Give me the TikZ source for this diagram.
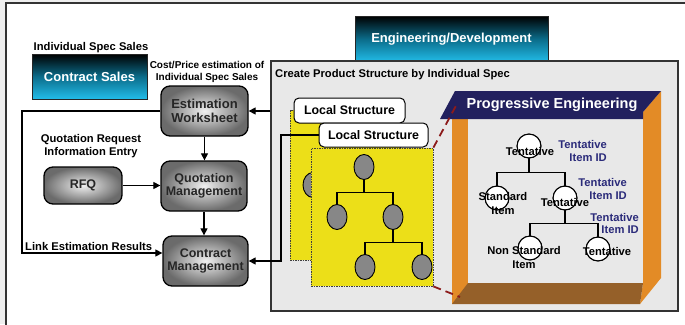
\documentclass[tikz,border=0pt]{standalone}
\usepackage{fontspec}
\setmainfont{Liberation Sans}
\usetikzlibrary{arrows.meta,calc,shapes.geometric}
\definecolor{outerbg}{HTML}{EEEEEE}
\definecolor{framecol}{HTML}{333333}
\definecolor{boxgray}{HTML}{E8E8E8}
\definecolor{yel}{HTML}{ECDF18}
\definecolor{ellgray}{HTML}{878787}
\definecolor{navyband}{HTML}{22205E}
\definecolor{orng}{HTML}{E38B26}
\definecolor{brwn}{HTML}{956029}
\definecolor{reddash}{HTML}{8C1B1B}
\definecolor{navytxt}{HTML}{2B2B7A}
\definecolor{cyanb}{HTML}{22BDE9}
\definecolor{tealm}{HTML}{0B6C8A}
\newcommand\myfs[2]{\fontsize{#1}{#2}\selectfont\bfseries}
\begin{document}
\begin{tikzpicture}[x=1pt,y=-1pt,
  arr/.style={line width=1.2, -{Triangle[length=7pt,width=7pt]}},
  tealbox/.style={draw=black!85, line width=0.8, top color=black, bottom color=cyanb, middle color=tealm, text=white, font=\myfs{13}{15}, inner sep=0},
  gbx/.style={draw=black, line width=1.3, rounded corners=9pt, inner color=gray!12, outer color=black!58, text=black!85, font=\myfs{12.5}{13}, align=center, inner sep=0},
  lbl/.style={draw=black, line width=1, rounded corners=5pt, fill=white, font=\myfs{12.4}{14}, inner sep=0},
  ybox/.style={draw=black!75, fill=yel, line width=0.8, dash pattern=on 1.5pt off 1pt, inner sep=0},
  ell/.style={ellipse, draw=black, fill=ellgray, line width=0.9, minimum width=20, minimum height=25, inner sep=0},
  circ/.style={circle, draw=black, fill=white, line width=0.9, minimum size=24, inner sep=0},
  tl/.style={line width=1.2, draw=black},
  txt/.style={font=\myfs{11.2}{13}, inner sep=0},
  navylab/.style={font=\myfs{11.2}{13}, text=navytxt, align=right, anchor=east, inner sep=0},
  reddashed/.style={draw=reddash, line width=1.8, dash pattern=on 8pt off 5pt}
]
\useasboundingbox (0,0) rectangle (685,324);
\clip (0,0) rectangle (685,324);
\fill[outerbg] (0,0) rectangle (685,324);
\draw[line width=2.5, draw=framecol, fill=white] (6,3) rectangle (700,340);

% left part
\node[txt] (ind) at (91,48) {Individual Spec Sales};
\node[tealbox, minimum width=115, minimum height=45] (cs) at (89.5,76.5) {Contract Sales};
\node[txt, font=\myfs{10}{12}, align=center] (cost) at (207,72) {Cost/Price estimation of\\Individual Spec Sales};
\node[gbx, minimum width=87, minimum height=50, font=\myfs{13}{14}] (est) at (204.5,111) {Estimation\\Worksheet};
\node[txt, align=center] (qreq) at (91,146.5) {Quotation Request\\Information Entry};
\node[gbx, minimum width=78, minimum height=37] (rfq) at (83,185.5) {RFQ};
\node[gbx, minimum width=86, minimum height=50] (qm) at (204,186) {Quotation\\Management};
\node[gbx, minimum width=85, minimum height=50] (cm) at (205.5,261) {Contract\\Management};
\node[txt, anchor=base west] (link) at (25,250) {Link Estimation Results};

\coordinate (lx) at (22,0);
\coordinate (cmin) at ($(cm.west)+(0,-8)$);
\draw[arr] (est.west) -| (lx |- cmin) -- (cmin);
\draw[arr] (est.south) -- (est.south |- qm.north);
\draw[arr] (rfq.east) -- (rfq.east -| qm.west);
\draw[arr] (qm.south) -- (qm.south |- cm.north);

% engineering part
\node[tealbox, minimum width=193, minimum height=46] (eng) at (451.5,39) {Engineering/Development};
\node[draw=framecol, fill=boxgray, line width=1.5, minimum width=407, minimum height=250, inner sep=0] (gb) at (474.5,186) {};
\node[txt, anchor=west] (gtitle) at (275,75) {Create Product Structure by Individual Spec};
\draw[arr] (gb.west |- est.east) -- (est.east);

% local structures
\node[ybox, minimum width=110, minimum height=150] (yb) at (345,185) {};
\node[ell] (be) at (313,185) {};
\node[lbl, minimum width=111, minimum height=25] (ls1) at (349.5,110.5) {Local Structure};
\node[ybox, minimum width=122, minimum height=138] (yf) at (372,217) {};
\node[lbl, minimum width=109, minimum height=24] (ls2) at (373.5,135) {Local Structure};
\coordinate (tx) at (281,0);
\draw[arr] (ls2.west) -| (tx |- cm.east) -- (cm.east);

\node[ell] (f1) at (364,167) {};
\node[ell] (f2) at (337,217) {};
\node[ell] (f3) at (393,217) {};
\node[ell] (f4) at (365,267) {};
\node[ell] (f5) at (422,267) {};
\draw[tl] (f1.south) -- ++(0,12.5) -| (f2.north);
\draw[tl] (f1.south) ++(0,12.5) -| (f3.north);
\draw[tl] (f3.south) -- ++(0,12.5) -| (f4.north);
\draw[tl] (f3.south) ++(0,12.5) -| (f5.north);

% progressive engineering box
\fill[orng] (452,119) rectangle (468,304);
\fill[orng] (643,112) -- (661,91) -- (661,278) -- (640,304) -- (643,283) -- cycle;
\fill[brwn] (452,304) -- (468,283) -- (643,283) -- (640,304) -- cycle;
\fill[navyband] (440,119) -- (455,91) -- (661,91) -- (643,112) -- (643,119) -- cycle;
\node[font=\myfs{14.5}{16}, text=white, inner sep=0] (pe) at (552,105) {Progressive Engineering};

\draw[reddashed] (yf.north east) -- (458,102);
\draw[reddashed] (yf.south east) -- (460,297);

% tentative tree
\node[circ] (c1) at (529,146) {};
\node[circ] (c2) at (497,198) {};
\node[circ] (c3) at (565,198) {};
\node[circ] (c4) at (530,248) {};
\node[circ] (c5) at (598,249) {};
\draw[tl] (c1.south) -- ++(0,14) -| (c2.north);
\draw[tl] (c1.south) ++(0,14) -| (c3.north);
\draw[tl] (c3.south) -- ++(0,13) -| (c4.north);
\draw[tl] (c3.south) ++(0,13) -| (c5.north);

\node[txt] (t1) at (530,151) {Tentative};
\node[txt, align=center, font=\myfs{11.2}{14}] (t2) at (503,203) {Standard\\Item};
\node[txt] (t3) at (565,202) {Tentative};
\node[txt, align=center, font=\myfs{11.2}{14}] (t4) at (524,257) {Non Standard\\Item};
\node[txt] (t5) at (607,251) {Tentative};
\foreach \c in {c1,c2,c3,c4,c5} \draw[line width=0.9] (\c.center) circle[radius=12];

\node[navylab] (n1) at (607,150.5) {Tentative\\Item ID};
\node[navylab] (n2) at (627,188.5) {Tentative\\Item ID};
\node[navylab, font=\myfs{11.2}{12}] (n3) at (639,223) {Tentative\\Item ID};
\end{tikzpicture}
\end{document}
